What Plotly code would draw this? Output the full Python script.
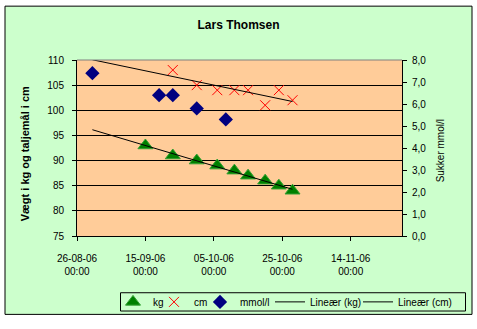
import numpy as np
import pandas as pd
import plotly.graph_objects as go

# ---- data ----
kg_dates = ["2006-09-15 00:00", "2006-09-23 00:00", "2006-09-30 00:00", "2006-10-06 00:00",
            "2006-10-11 00:00", "2006-10-15 00:00", "2006-10-20 00:00", "2006-10-24 00:00",
            "2006-10-28 00:00"]
kg_vals = [93, 91, 90, 89, 88, 87, 86, 85, 84]

cm_dates = ["2006-09-23 00:00", "2006-09-30 00:00", "2006-10-06 00:00", "2006-10-11 00:00",
            "2006-10-15 00:00", "2006-10-20 00:00", "2006-10-24 00:00", "2006-10-28 00:00"]
cm_vals = [108, 105, 104, 104, 104, 101, 104, 102]

mmol_dates = ["2006-08-30 12:00", "2006-09-19 00:00", "2006-09-23 00:00", "2006-09-30 00:00",
              "2006-10-08 12:00"]
mmol_vals = [7.4, 6.4, 6.4, 5.8, 5.3]

x_tick_dates = ["2006-08-26", "2006-09-15", "2006-10-05", "2006-10-25", "2006-11-14"]
x_tick_labels = ["26-08-06<br>00:00", "15-09-06<br>00:00", "05-10-06<br>00:00",
                 "25-10-06<br>00:00", "14-11-06<br>00:00"]
x_range = ["2006-08-26", "2006-11-29"]


def to_dt(lst):
    return pd.to_datetime(lst, format="ISO8601")


# ---- linear trendlines (least squares) ----
all_dates = to_dt(kg_dates + cm_dates + mmol_dates)
t_start, t_end = all_dates.min(), all_dates.max()
ref = pd.Timestamp("2006-08-26")


def trend(dates, vals):
    d = (to_dt(dates) - ref) / pd.Timedelta(days=1)
    slope, icpt = np.polyfit(np.asarray(d, float), np.asarray(vals, float), 1)
    xs = [t_start, t_end]
    ys = [icpt + slope * ((t - ref) / pd.Timedelta(days=1)) for t in xs]
    return xs, ys


kg_tx, kg_ty = trend(kg_dates, kg_vals)
cm_tx, cm_ty = trend(cm_dates, cm_vals)

FONT = "Liberation Sans, Arial, sans-serif"

fig = go.Figure()
fig.add_trace(go.Scatter(x=to_dt(kg_dates), y=kg_vals, mode="markers", name="kg",
                         legend="legend",
                         marker=dict(symbol="triangle-up", size=13, color="#008000",
                                     line=dict(color="#33a033", width=1))))
fig.add_trace(go.Scatter(x=to_dt(cm_dates), y=cm_vals, mode="markers", name="cm",
                         legend="legend2",
                         marker=dict(symbol="x-thin", size=10, color="#ff0000",
                                     line=dict(color="#ff0000", width=1))))
fig.add_trace(go.Scatter(x=to_dt(mmol_dates), y=mmol_vals, mode="markers", name="mmol/l",
                         yaxis="y2", legend="legend3",
                         marker=dict(symbol="diamond", size=11, color="#000080",
                                     line=dict(color="#000080", width=0))))
fig.add_trace(go.Scatter(x=kg_tx, y=kg_ty, mode="lines", name="Lineær (kg)",
                         legend="legend4", line=dict(color="black", width=1)))
fig.add_trace(go.Scatter(x=cm_tx, y=cm_ty, mode="lines", name="Lineær (cm)",
                         legend="legend5", line=dict(color="black", width=1)))

L, R, T, B = 77, 75, 60, 86
W, H = 477, 329
pw, ph = W - L - R, H - T - B


def px2x(px):
    return (px - L) / pw


def py2y(py):
    return (H - B - py) / ph


def leg(center_px):
    return dict(orientation="h", x=px2x(center_px - 20), xanchor="left",
                y=py2y(311.5), yanchor="middle", bgcolor="rgba(0,0,0,0)",
                borderwidth=0, font=dict(size=10, family=FONT, color="black"))


fig.update_layout(
    width=W, height=H,
    margin=dict(l=L, r=R, t=T, b=B),
    paper_bgcolor="white",
    plot_bgcolor="#FFCC99",
    separators=",.",
    font=dict(family=FONT, size=10, color="black"),
    title=dict(text="<b>Lars Thomsen</b>", x=0.5, xanchor="center", y=1 - 25 / H,
               yanchor="middle", font=dict(size=12, family=FONT)),
    showlegend=True,
    legend=leg(133), legend2=leg(174), legend3=leg(220),
    legend4=leg(290), legend5=leg(378),
    xaxis=dict(type="date", range=x_range, tickvals=x_tick_dates, ticktext=x_tick_labels,
               showgrid=False, showline=True, linecolor="black", linewidth=1,
               ticks="outside", ticklen=4, tickcolor="black", zeroline=False,
               ticklabelstandoff=9, tickfont=dict(size=10)),
    yaxis=dict(range=[75, 110], dtick=5, tick0=75, showgrid=True, gridcolor="black",
               gridwidth=1, showline=True, linecolor="black", linewidth=1,
               ticks="outside", ticklen=4, tickcolor="black", zeroline=False,
               ticklabelstandoff=6, tickfont=dict(size=10)),
    yaxis2=dict(range=[0, 8], dtick=1, tick0=0, tickformat=".1f", overlaying="y",
                side="right", showgrid=False, showline=True, linecolor="black",
                linewidth=1, ticks="outside", ticklen=4, tickcolor="black",
                zeroline=False, ticklabelstandoff=3, tickfont=dict(size=10)),
    shapes=[
        dict(type="rect", xref="paper", yref="paper", x0=px2x(5), x1=px2x(472),
             y0=py2y(324.5), y1=py2y(4), fillcolor="#CCFFCC",
             line=dict(color="black", width=1), layer="below"),
        dict(type="rect", xref="paper", yref="paper", x0=0, x1=1, y0=0, y1=1,
             fillcolor="#FFCC99", line=dict(width=0), layer="below"),
        dict(type="line", xref="paper", yref="paper", x0=0, x1=1, y0=1, y1=1,
             line=dict(color="#808080", width=1), layer="above"),
        dict(type="rect", xref="paper", yref="paper", x0=px2x(120.5), x1=px2x(465.5),
             y0=py2y(321), y1=py2y(302), fillcolor="rgba(0,0,0,0)",
             line=dict(color="black", width=1), layer="above"),
    ],
    annotations=[
        dict(text="<b>Vægt i kg og taljemål i cm</b>", xref="paper", yref="paper",
             x=px2x(25), y=py2y(158), textangle=-90, showarrow=False,
             xanchor="center", yanchor="middle", font=dict(size=11, family=FONT)),
        dict(text="Sukker mmol/l", xref="paper", yref="paper",
             x=px2x(440), y=py2y(155), textangle=-90, showarrow=False,
             xanchor="center", yanchor="middle", font=dict(size=10, family=FONT)),
    ],
)

fig.write_html("out.html")
